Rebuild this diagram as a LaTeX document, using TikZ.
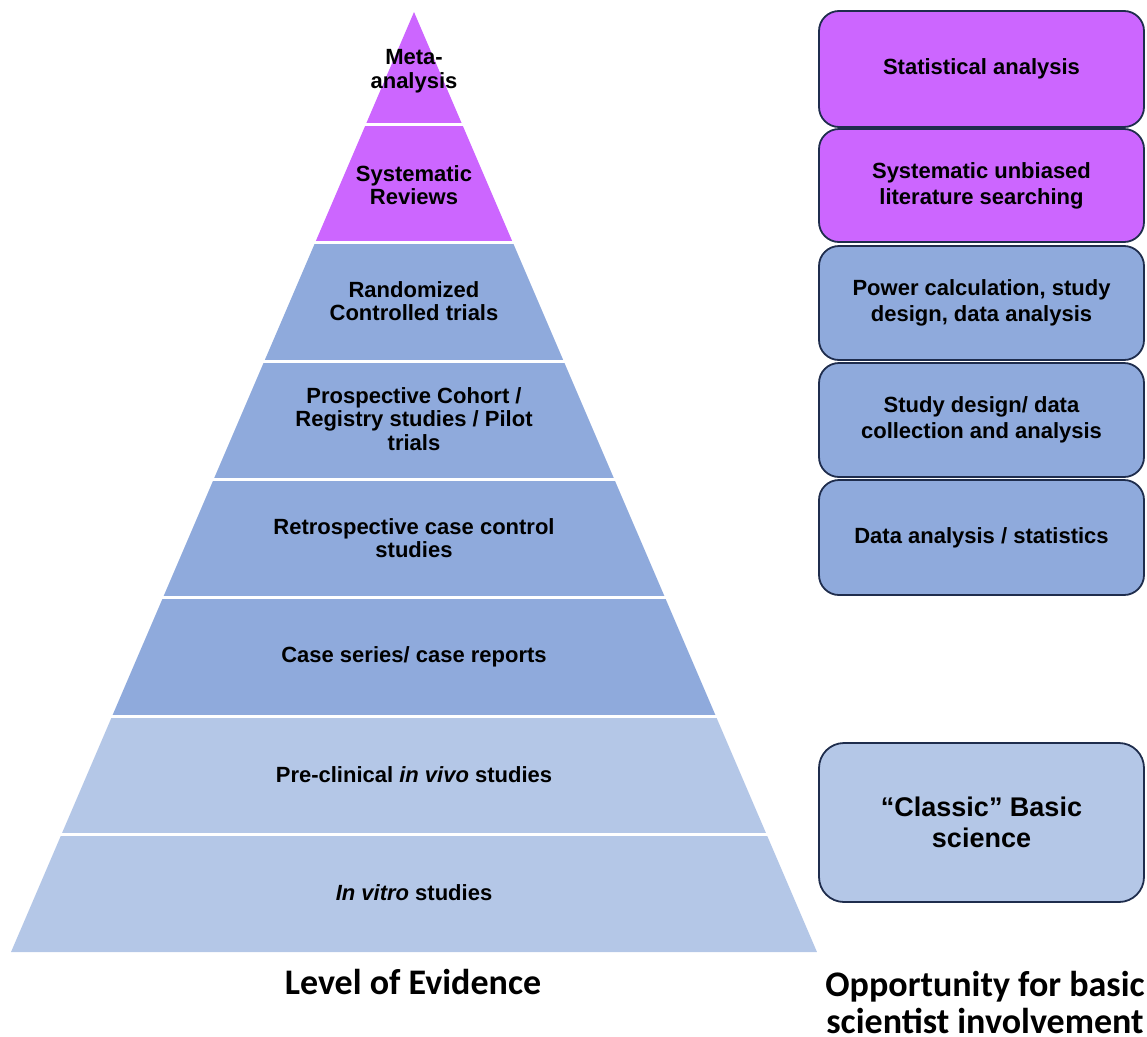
\documentclass[tikz,border=0pt]{standalone}
\usepackage{fontspec}
\setmainfont{Liberation Sans}
\newfontfamily\calib{Carlito}
\definecolor{purp}{HTML}{CC66FF}
\definecolor{midb}{HTML}{8FAADC}
\definecolor{lightb}{HTML}{B4C7E7}
\definecolor{edgec}{HTML}{1F2D4D}
\begin{document}
\begin{tikzpicture}[x=1pt,y=-1pt,
  lay/.style={font=\fontsize{22}{23.5}\selectfont\bfseries, align=center, inner sep=0pt},
  sbox/.style={draw=edgec, line width=1.8pt, rounded corners=20pt, minimum width=325pt, font=\fontsize{22}{26}\selectfont\bfseries, align=center},
  capt/.style={font=\calib\fontsize{36}{38}\selectfont\bfseries, align=center, inner sep=0pt}]
\useasboundingbox (0,0) rectangle (1147,1036);
\def\sl{0.4287}
\foreach \ya/\yb/\c in {12/124/purp,124/242/purp,242/361/midb,361/479/midb,479/597/midb,597/716/midb,716/834/lightb,834/952/lightb}{
  \fill[\c] ({414-(\ya-12)*\sl},\ya) -- ({414+(\ya-12)*\sl},\ya) -- ({414+(\yb-12)*\sl},\yb) -- ({414-(\yb-12)*\sl},\yb) -- cycle;
}
\foreach \y in {124,242,361,479,597,716,834}{
  \draw[white, line width=3pt] ({414-(\y-12)*\sl-3},\y) -- ({414+(\y-12)*\sl+3},\y);
}
% pyramid labels
\node[lay] (l1) at (414,71) {Meta-\\analysis};
\node[lay] (l2) at (414,185) {Systematic\\Reviews};
\node[lay] (l3) at (414,301) {Randomized\\Controlled trials};
\node[lay] (l4) at (414,419) {Prospective Cohort /\\Registry studies / Pilot\\trials};
\node[lay] (l5) at (414,538) {Retrospective case control\\studies};
\node[lay] (l6) at (414,657) {Case series/ case reports};
\node[lay] (l7) at (414,775) {Pre-clinical \textit{in vivo} studies};
\node[lay] (l8) at (414,893) {\textit{In vitro} studies};
% right boxes
\node[sbox, fill=purp, minimum height=116pt] (b1) at (981.5,69) {Statistical analysis};
\node[sbox, fill=purp, minimum height=113pt] (b2) at (981.5,185.5) {Systematic unbiased\\literature searching};
\node[sbox, fill=midb, minimum height=114pt] (b3) at (981.5,303) {Power calculation, study\\design, data analysis};
\node[sbox, fill=midb, minimum height=114pt] (b4) at (981.5,420) {Study design/ data\\collection and analysis};
\node[sbox, fill=midb, minimum height=115pt] (b5) at (981.5,537.5) {Data analysis / statistics};
\node[sbox, fill=lightb, minimum height=159pt, rounded corners=25pt, font=\fontsize{27}{31}\selectfont\bfseries] (b6) at (981.5,822.5) {“Classic” Basic\\science};
% captions
\node[capt, anchor=base] (c1) at (413,994) {Level of Evidence};
\node[capt, anchor=base] (c2) at (985,996) {Opportunity for basic};
\node[capt, anchor=base] (c3) at (985,1033) {scientist involvement};
\end{tikzpicture}
\end{document}
